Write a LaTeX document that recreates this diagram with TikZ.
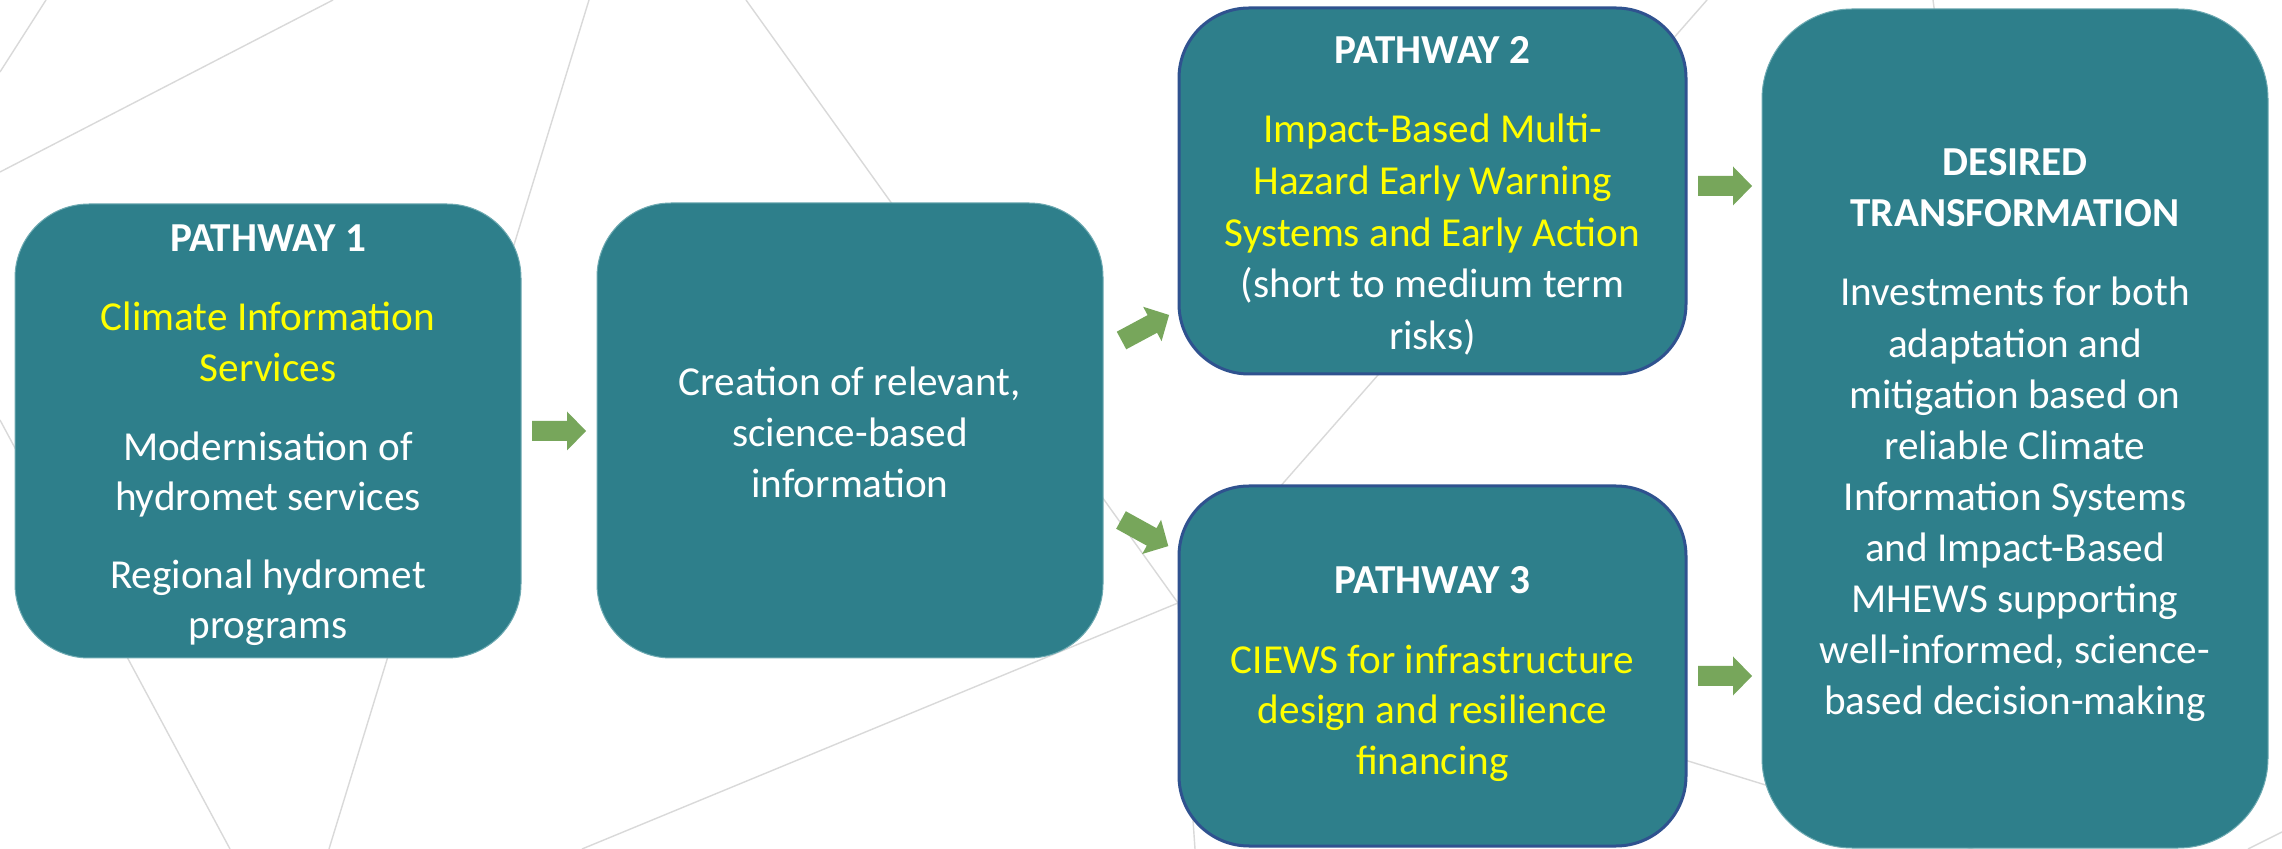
\documentclass[tikz,border=0pt]{standalone}
\usepackage{fontspec}
\setmainfont{Carlito}
\definecolor{boxteal}{RGB}{46,127,139}
\definecolor{boxedge}{RGB}{47,82,143}
\definecolor{softedge}{RGB}{110,170,178}
\definecolor{arrowgreen}{RGB}{119,166,91}
\definecolor{meshgrey}{RGB}{217,217,217}
\definecolor{hilite}{RGB}{255,255,0}
\begin{document}
\begin{tikzpicture}[x=0.5pt,y=-0.5pt,
  box/.style={rectangle, fill=boxteal, inner sep=0pt},
  plainbox/.style={box, draw=softedge, line width=0.5pt},
  pathbox/.style={box, draw=boxedge, line width=1.5pt},
  txt/.style={anchor=base, inner sep=0pt, text=white, font=\fontsize{20.6}{24}\selectfont},
  ytxt/.style={txt, text=hilite},
  htxt/.style={txt, font=\fontsize{20.6}{24}\selectfont\bfseries},
  mesh/.style={draw=meshgrey, line width=0.7pt},
  blockarrow/.style={fill=arrowgreen}]
\useasboundingbox (0,0) rectangle (2282,849);
\clip (0,0) rectangle (2282,849);
\fill[white] (0,0) rectangle (2282,849);

% background mesh
\coordinate (v) at (1178,603);
\draw[mesh] (46,0) -- (0,72);
\draw[mesh] (333,0) -- (0,172);
\draw[mesh] (589,0) -- (329,849);
\draw[mesh] (0,420) -- (230,849);
\draw[mesh] (746,0) -- (v);
\draw[mesh] (582,849) -- (v);
\draw[mesh] (1707,0) -- (v);
\draw[mesh] (v) -- (2282,945);
\draw[mesh] (v) -- (1195,849);
\draw[mesh] (2248,849) -- (2282,832);
\draw[mesh] (1933,0) -- (1937,30);

% boxes
\node[plainbox, rounded corners=37pt, minimum width=253pt, minimum height=227pt] (p1) at (268,431) {};
\node[plainbox, rounded corners=37pt, minimum width=253pt, minimum height=227.5pt] (info) at (850,430.5) {};
\node[pathbox, rounded corners=35pt, minimum width=253.5pt, minimum height=183pt] (p2) at (1432.5,191) {};
\node[pathbox, rounded corners=35pt, minimum width=253.5pt, minimum height=180pt] (p3) at (1432.5,666) {};
\node[plainbox, rounded corners=45pt, minimum width=253pt, minimum height=419.5pt] (des) at (2015,428.5) {};

% block arrows
\fill[blockarrow, shift={(532,431)}] (0,-10) -- (35,-10) -- (35,-19.5) -- (54,0) -- (35,19.5) -- (35,10) -- (0,10) -- cycle;
\fill[blockarrow, shift={(1121.5,340.5)}, rotate=28.2] (0,-10) -- (35,-10) -- (35,-19.5) -- (54,0) -- (35,19.5) -- (35,10) -- (0,10) -- cycle;
\fill[blockarrow, shift={(1121,520)}, rotate=-28.9] (0,-10) -- (35,-10) -- (35,-19.5) -- (54,0) -- (35,19.5) -- (35,10) -- (0,10) -- cycle;
\fill[blockarrow, shift={(1698,186)}] (0,-10) -- (35,-10) -- (35,-19.5) -- (54,0) -- (35,19.5) -- (35,10) -- (0,10) -- cycle;
\fill[blockarrow, shift={(1698,676)}] (0,-10) -- (35,-10) -- (35,-19.5) -- (54,0) -- (35,19.5) -- (35,10) -- (0,10) -- cycle;

% Pathway 1 text
\node[htxt] (p1h) at (268,252) {PATHWAY 1};
\node[ytxt] (p1a) at (268,331) {Climate Information};
\node[ytxt] (p1b) at (268,382) {Services};
\node[txt] (p1c) at (268,461) {Modernisation of};
\node[txt] (p1d) at (268,511) {hydromet services};
\node[txt] (p1e) at (268,589) {Regional hydromet};
\node[txt] (p1f) at (268,639) {programs};

% info text
\node[txt] (i1) at (850,396) {Creation of relevant,};
\node[txt] (i2) at (850,447) {science-based};
\node[txt] (i3) at (850,498) {information};

% Pathway 2 text
\node[htxt] (p2h) at (1432.5,64) {PATHWAY 2};
\node[ytxt] (p2a) at (1432.5,143) {Impact-Based Multi-};
\node[ytxt] (p2b) at (1432.5,195) {Hazard Early Warning};
\node[ytxt] (p2c) at (1432.5,247) {Systems and Early Action};
\node[txt] (p2d) at (1432.5,298) {(short to medium term};
\node[txt] (p2e) at (1432.5,350) {risks)};

% Pathway 3 text
\node[htxt] (p3h) at (1432.5,594) {PATHWAY 3};
\node[ytxt] (p3a) at (1432.5,674) {CIEWS for infrastructure};
\node[ytxt] (p3b) at (1432.5,724) {design and resilience};
\node[ytxt] (p3c) at (1432.5,775) {financing};

% Desired transformation text
\node[htxt] (dh1) at (2015,176) {DESIRED};
\node[htxt] (dh2) at (2015,227) {TRANSFORMATION};
\foreach \t [count=\i from 0] in {Investments for both, adaptation and, mitigation based on, reliable Climate, Information Systems, and Impact-Based, MHEWS supporting, {well-informed, science-}, based decision-making}
  \node[txt] (d\i) at (2015,306+51.1*\i) {\t};
\end{tikzpicture}
\end{document}
